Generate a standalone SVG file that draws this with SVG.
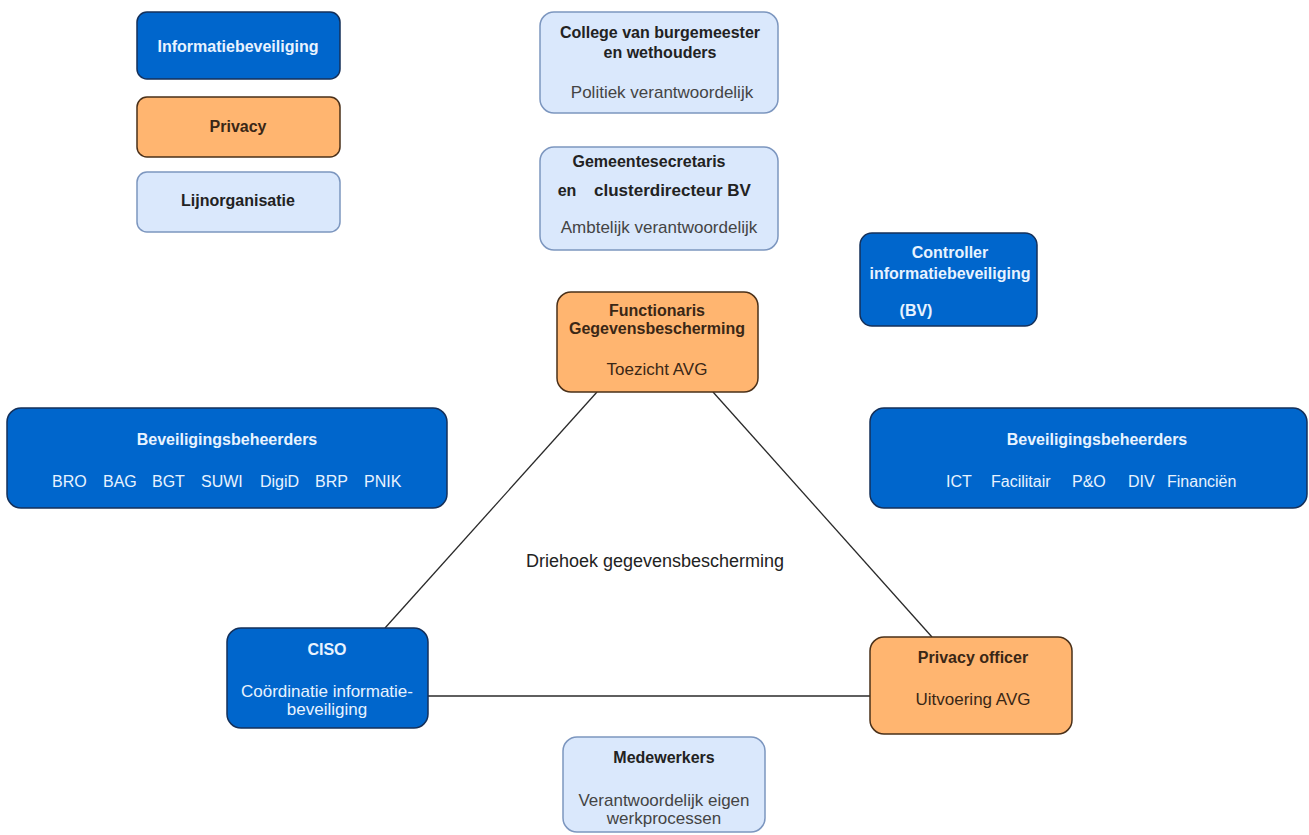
<svg xmlns="http://www.w3.org/2000/svg" width="1309" height="835" viewBox="0 0 1309 835">
<style>
.blue{fill:#0066CC;stroke:#14305A;stroke-width:1.5}
.orange{fill:#FFB570;stroke:#4A3019;stroke-width:1.5}
.light{fill:#DAE8FC;stroke:#7C96BF;stroke-width:1.5}
text{font-family:"Liberation Sans",Arial,sans-serif;font-size:16px;text-anchor:middle}
.b{font-weight:bold}
.s{font-size:17px}
.st{text-anchor:start}
.tb{fill:#E8F3FF}
.to{fill:#3A2716}
.tl{fill:#222}
.tls{fill:#444}
.conn line{stroke:#2a2a2a;stroke-width:1.3}
</style>
<rect width="1309" height="835" fill="#fff"/>
<g class="conn">
<line x1="597" y1="392" x2="385" y2="628"/>
<line x1="713" y1="392" x2="932" y2="637"/>
<line x1="428" y1="696" x2="870" y2="696"/>
</g>
<g id="legend-info"><rect class="blue" x="137" y="12" width="203" height="67" rx="10"/><text class="b tb" x="238" y="52">Informatiebeveiliging</text></g>
<g id="legend-privacy"><rect class="orange" x="137" y="97" width="203" height="60" rx="10"/><text class="b to" x="238" y="132">Privacy</text></g>
<g id="legend-lijn"><rect class="light" x="137" y="172" width="203" height="60" rx="10"/><text class="b tl" x="238" y="206">Lijnorganisatie</text></g>
<g id="college"><rect class="light" x="540" y="12" width="238" height="101" rx="14"/>
<text class="b tl" x="660" y="38">College van burgemeester</text>
<text class="b tl" x="660" y="58">en wethouders</text>
<text class="tls s" x="662" y="98">Politiek verantwoordelijk</text></g>
<g id="gemeente"><rect class="light" x="540" y="147" width="238" height="103" rx="14"/>
<text class="b tl" x="649" y="167">Gemeentesecretaris</text>
<text class="b tl" x="567" y="196">en</text>
<text class="b tl st s" x="594" y="196">clusterdirecteur BV</text>
<text class="tls s" x="659" y="233">Ambtelijk verantwoordelijk</text></g>
<g id="fg"><rect class="orange" x="557" y="292" width="201" height="100" rx="14"/>
<text class="b to" x="657" y="316">Functionaris</text>
<text class="b to" x="657" y="334">Gegevensbescherming</text>
<text class="to s" x="657" y="375">Toezicht AVG</text></g>
<g id="controller"><rect class="blue" x="860" y="233" width="177" height="93" rx="12"/>
<text class="b tb" x="950" y="258">Controller</text>
<text class="b tb" x="950" y="279">informatiebeveiliging</text>
<text class="b tb" x="916" y="316">(BV)</text></g>
<g id="bb-left"><rect class="blue" x="7" y="408" width="440" height="100" rx="14"/>
<text class="b tb" x="227" y="445">Beveiligingsbeheerders</text>
<text class="tb st" x="52" y="487">BRO</text>
<text class="tb st" x="103" y="487">BAG</text>
<text class="tb st" x="152" y="487">BGT</text>
<text class="tb st" x="201" y="487">SUWI</text>
<text class="tb st" x="260" y="487">DigiD</text>
<text class="tb st" x="315" y="487">BRP</text>
<text class="tb st" x="364" y="487">PNIK</text></g>
<g id="bb-right"><rect class="blue" x="870" y="408" width="437" height="100" rx="14"/>
<text class="b tb" x="1097" y="445">Beveiligingsbeheerders</text>
<text class="tb st" x="946" y="487">ICT</text>
<text class="tb st" x="991" y="487">Facilitair</text>
<text class="tb st" x="1072" y="487">P&amp;O</text>
<text class="tb st" x="1128" y="487">DIV</text>
<text class="tb st" x="1167" y="487">Financiën</text></g>
<g id="driehoek"><text fill="#222" x="655" y="567" style="font-size:18px">Driehoek gegevensbescherming</text></g>
<g id="ciso"><rect class="blue" x="227" y="628" width="201" height="100" rx="14"/>
<text class="b tb" x="327" y="655">CISO</text>
<text class="tb s" x="327" y="697">Coördinatie informatie-</text>
<text class="tb s" x="327" y="715">beveiliging</text></g>
<g id="po"><rect class="orange" x="870" y="637" width="202" height="97" rx="14"/>
<text class="b to" x="973" y="663">Privacy officer</text>
<text class="to s" x="973" y="705">Uitvoering AVG</text></g>
<g id="medewerkers"><rect class="light" x="563" y="737" width="202" height="95" rx="14"/>
<text class="b tl" x="664" y="763">Medewerkers</text>
<text class="tls s" x="664" y="806">Verantwoordelijk eigen</text>
<text class="tls s" x="664" y="824">werkprocessen</text></g>
</svg>
